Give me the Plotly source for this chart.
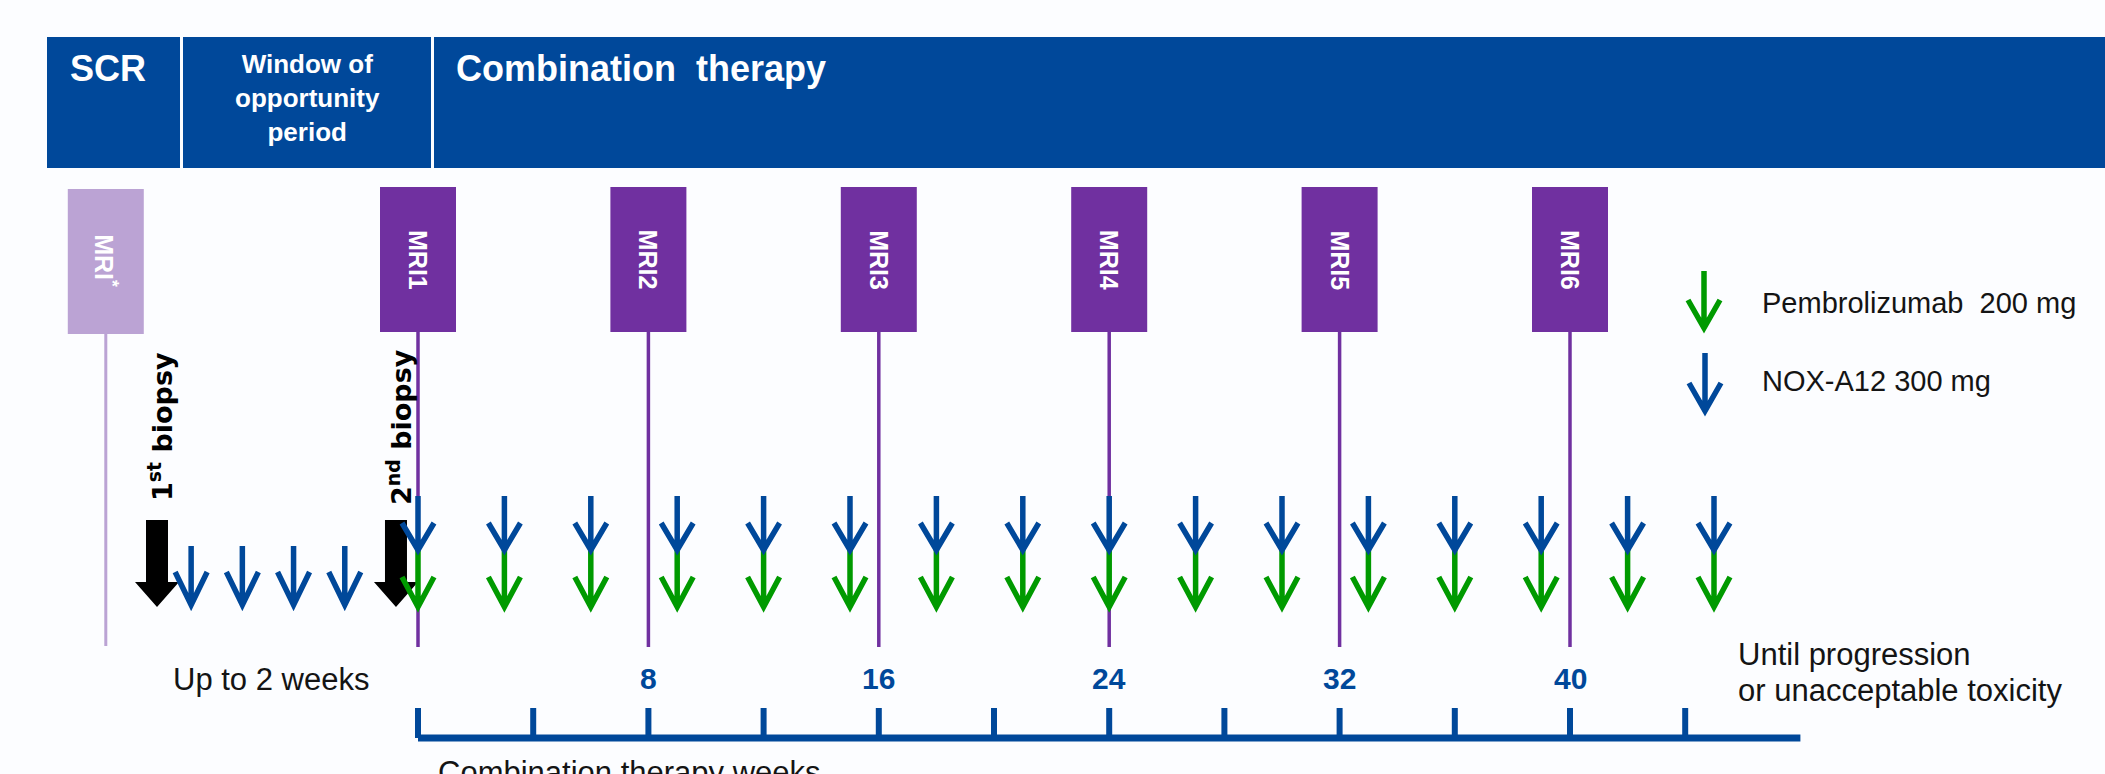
import plotly.graph_objects as go

# ---------------- data ----------------
phase_labels = ["SCR", "Window of<br>opportunity<br>period", "Combination\u00a0 therapy"]

mri_weeks = [0, 8, 16, 24, 32, 40]
mri_labels = ["MRI1", "MRI2", "MRI3", "MRI4", "MRI5", "MRI6"]
screen_mri_day = -3
screen_mri_label = "MRI<sup>*</sup>"

combo_dose_weeks = [0, 3, 6, 9, 12, 15, 18, 21, 24, 27, 30, 33, 36, 39, 42, 45]
window_dose_days = [2, 5, 8, 11]
biopsy_days = [0, 14]
biopsy_labels = ["1<sup>st</sup> biopsy", "2<sup>nd</sup> biopsy"]

axis_tick_weeks = [0, 4, 8, 12, 16, 20, 24, 28, 32, 36, 40, 44]
axis_end_week = 48
labeled_weeks = [8, 16, 24, 32, 40]

legend_items = ["Pembrolizumab\u00a0 200\u00a0mg", "NOX-A12 300\u00a0mg"]
window_note = "Up to 2 weeks"
end_note = ["Until progression", "or unacceptable toxicity"]
axis_title = "Combination therapy weeks"

# ---------------- layout constants ----------------
W, H = 2105, 774
X0PX, SW = 418, 28.8       # pixel of week 0, pixels per week
D0PX, SD = 157, 17.07      # pixel of day 0 (window period), pixels per day
BLUE = "#00489a"
PURPLE = "#7030a0"
LPURPLE = "#bba3d4"
GREEN = "#009a00"
BG = "#fcfdff"
TXT = "#141414"
SANS = "Liberation Sans, Arial, sans-serif"

fig = go.Figure()
# invisible anchors so both x scales exist
fig.add_trace(go.Scatter(x=combo_dose_weeks, y=[549] * len(combo_dose_weeks), mode="markers",
                         marker=dict(opacity=0), hoverinfo="skip", showlegend=False,
                         xaxis="x", yaxis="y"))
fig.add_trace(go.Scatter(x=window_dose_days, y=[580] * len(window_dose_days), mode="markers",
                         marker=dict(opacity=0), hoverinfo="skip", showlegend=False,
                         xaxis="x2", yaxis="y"))

shapes = []
annotations = []


def chevron(xref, x, y_top, y_tip, arm_y, color, half=16, width=5.5):
    path = f"M 0,{y_top} L 0,{y_tip} M {-half},{arm_y} L 0,{y_tip} L {half},{arm_y}"
    return dict(type="path", xref=xref, yref="y", xsizemode="pixel", xanchor=x,
                path=path, line=dict(color=color, width=width),
                fillcolor="rgba(0,0,0,0)", layer="above")


# header boxes
header_px = [(47, 180), (183, 431), (434, W)]
for x0, x1 in header_px:
    shapes.append(dict(type="rect", xref="paper", yref="y", x0=x0 / W, x1=x1 / W,
                       y0=37, y1=168, fillcolor=BLUE, line=dict(width=0), layer="below"))
annotations.append(dict(text="<b>" + phase_labels[0] + "</b>", xref="paper", yref="y",
                        x=108 / W, y=68, showarrow=False, xanchor="center", yanchor="middle",
                        font=dict(family=SANS, size=36, color="white")))
annotations.append(dict(text="<b>" + phase_labels[1] + "</b>", xref="paper", yref="y",
                        x=307 / W, y=98, showarrow=False, xanchor="center", yanchor="middle",
                        font=dict(family=SANS, size=26, color="white")))
annotations.append(dict(text="<b>" + phase_labels[2] + "</b>", xref="paper", yref="y",
                        x=454 / W, y=68, showarrow=False, xanchor="left", yanchor="middle",
                        font=dict(family=SANS, size=36, color="white")))

# screening MRI box + line
shapes.append(dict(type="rect", xref="x2", yref="y", xsizemode="pixel", xanchor=screen_mri_day,
                   x0=-38, x1=38, y0=189, y1=334, fillcolor=LPURPLE, line=dict(width=0)))
shapes.append(dict(type="line", xref="x2", yref="y", x0=screen_mri_day, x1=screen_mri_day,
                   y0=334, y1=646, line=dict(color=LPURPLE, width=3)))
annotations.append(dict(text="<b>" + screen_mri_label + "</b>", xref="x2", yref="y",
                        x=screen_mri_day, y=261, showarrow=False, textangle=90,
                        font=dict(family=SANS, size=25, color="white")))

# combination MRI boxes
for w, lab in zip(mri_weeks, mri_labels):
    shapes.append(dict(type="rect", xref="x", yref="y", xsizemode="pixel", xanchor=w,
                       x0=-38, x1=38, y0=187, y1=332, fillcolor=PURPLE, line=dict(width=0)))
    annotations.append(dict(text="<b>" + lab + "</b>", xref="x", yref="y", x=w, y=260,
                            showarrow=False, textangle=90,
                            font=dict(family=SANS, size=25, color="white")))

# biopsy block arrows
for d, lab in zip(biopsy_days, biopsy_labels):
    shapes.append(dict(type="path", xref="x2", yref="y", xsizemode="pixel", xanchor=d,
                       path="M -11,520 L 11,520 L 11,582 L 22,582 L 0,607 L -22,582 L -11,582 Z",
                       fillcolor="black", line=dict(width=0)))
    annotations.append(dict(text="<b>" + lab + "</b>", xref="x2", yref="y", x=d, xshift=3,
                            y=427, showarrow=False, textangle=-90,
                            font=dict(family="DejaVu Sans, sans-serif", size=27, color="black")))

# MRI vertical lines
for w in mri_weeks:
    shapes.append(dict(type="line", xref="x", yref="y", x0=w, x1=w, y0=332, y1=647,
                       line=dict(color=PURPLE, width=3.5)))

# window period NOX-A12 doses
for d in window_dose_days:
    shapes.append(chevron("x2", d, 546, 605, 572, BLUE))

# combination doses: pembrolizumab (green) + NOX-A12 (blue)
for w in combo_dose_weeks:
    shapes.append(chevron("x", w, 549, 607, 577, GREEN))
    shapes.append(chevron("x", w, 496, 550, 523, BLUE))

# legend
shapes.append(chevron("paper", 1704 / W, 271, 328, 300, GREEN))
shapes.append(chevron("paper", 1705 / W, 353, 411, 383, BLUE))
annotations.append(dict(text=legend_items[0], xref="paper", yref="y", x=1760 / W, y=303,
                        xanchor="left", yanchor="middle", showarrow=False,
                        font=dict(family=SANS, size=29, color=TXT)))
annotations.append(dict(text=legend_items[1], xref="paper", yref="y", x=1760 / W, y=381,
                        xanchor="left", yanchor="middle", showarrow=False,
                        font=dict(family=SANS, size=29, color=TXT)))

# bottom axis
shapes.append(dict(type="line", xref="x", yref="y", x0=axis_tick_weeks[0], x1=axis_end_week,
                   y0=738, y1=738, line=dict(color=BLUE, width=7)))
for w in axis_tick_weeks:
    shapes.append(dict(type="line", xref="x", yref="y", x0=w, x1=w, y0=708, y1=738,
                       line=dict(color=BLUE, width=6)))
for w in labeled_weeks:
    annotations.append(dict(text="<b>" + str(w) + "</b>", xref="x", yref="y", x=w, y=678,
                            showarrow=False, xanchor="center", yanchor="middle",
                            font=dict(family=SANS, size=30, color=BLUE)))

annotations.append(dict(text=window_note, xref="x2", yref="y", x=7, xshift=-5, y=679,
                        showarrow=False, xanchor="center", yanchor="middle",
                        font=dict(family=SANS, size=31, color=TXT)))
annotations.append(dict(text=end_note[0], xref="paper", yref="y", x=1736 / W, y=654,
                        showarrow=False, xanchor="left", yanchor="middle",
                        font=dict(family=SANS, size=31, color=TXT)))
annotations.append(dict(text=end_note[1], xref="paper", yref="y", x=1736 / W, y=690,
                        showarrow=False, xanchor="left", yanchor="middle",
                        font=dict(family=SANS, size=31, color=TXT)))
annotations.append(dict(text=axis_title, xref="x", yref="y", x=0, xshift=18, y=772,
                        showarrow=False, xanchor="left", yanchor="middle",
                        font=dict(family=SANS, size=31, color=TXT)))

fig.update_layout(
    width=W, height=H, margin=dict(l=0, r=0, t=0, b=0, pad=0),
    paper_bgcolor=BG, plot_bgcolor=BG, showlegend=False,
    xaxis=dict(range=[-X0PX / SW, (W - X0PX) / SW], visible=False, fixedrange=True),
    xaxis2=dict(range=[-D0PX / SD, (W - D0PX) / SD], visible=False, overlaying="x",
                anchor="y", fixedrange=True),
    yaxis=dict(range=[H, 0], visible=False, fixedrange=True),
    shapes=shapes, annotations=annotations,
)

fig.write_html("out.html", config={"displayModeBar": False},
               post_script="document.body.style.margin='0';document.body.style.overflow='hidden';")
